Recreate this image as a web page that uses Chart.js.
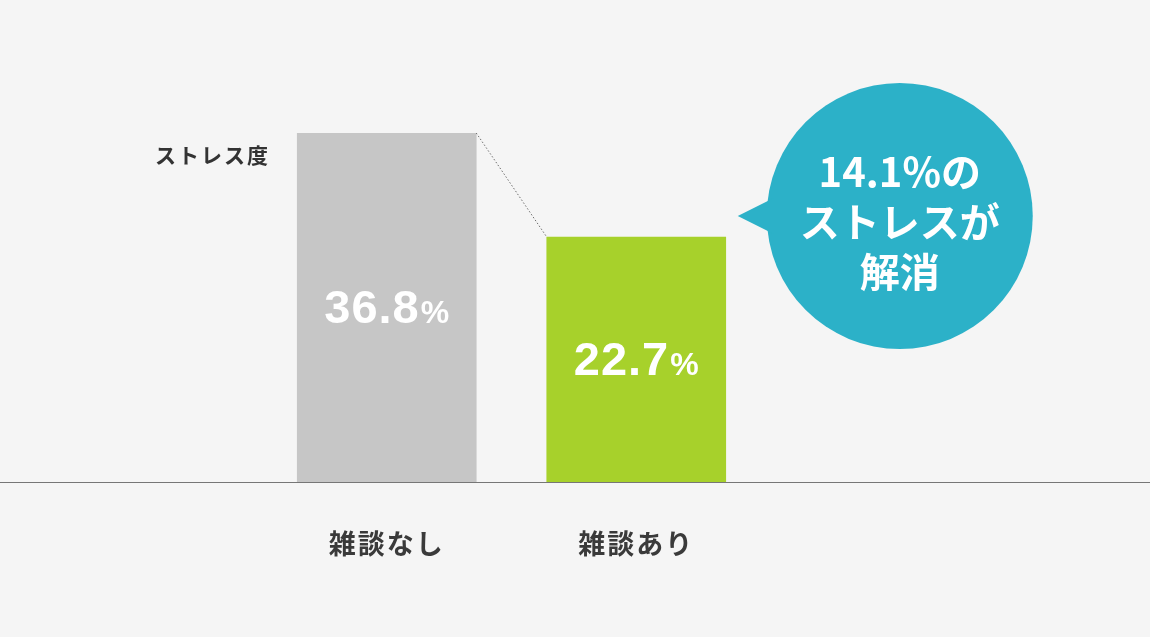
<!DOCTYPE html>
<html><head><meta charset="utf-8">
<script src="https://cdn.jsdelivr.net/npm/chart.js@4.4.1/dist/chart.umd.min.js"></script>
<style>html,body{margin:0;padding:0;background:#f5f5f5;overflow:hidden}#wrap{width:1150px;height:637px;position:relative}</style>
</head><body><div id="wrap"><canvas id="c"></canvas></div>
<script>
// ---- data ----
const categories = ['雑談なし', '雑談あり'];
const stressValues = [36.8, 22.7];
const barColors = ['#c6c6c6', '#a7d12b'];
const axisTitle = 'ストレス度';
const bubbleSuffixLines = ['のストレスが', '解消'];
// value axis range (the original chart's bars do not start at zero)
const Y_MIN = -10.5;
const Y_MAX = 36.8;

const JP = '"Noto Sans CJK JP", "Noto Sans", sans-serif';
const LAT = '"Liberation Sans", Arial, sans-serif';

function setLS(c, v) { try { c.letterSpacing = v; } catch (e) {} }

const bgPlugin = {
  id: 'bg',
  beforeDraw(chart) {
    const c = chart.ctx; c.save(); c.fillStyle = '#f5f5f5';
    c.fillRect(0, 0, chart.width, chart.height); c.restore();
    setLS(c, '2px');
  },
  beforeDatasetsDraw(chart) { setLS(chart.ctx, '0px'); }
};

const overlay = {
  id: 'overlay',
  afterDraw(chart) {
    const c = chart.ctx;
    setLS(c, '0px');
    const meta = chart.getDatasetMeta(0);
    const bars = meta.data;
    const area = chart.chartArea;
    c.save();
    // baseline across full width
    c.strokeStyle = '#767676'; c.lineWidth = 1.2;
    c.beginPath(); c.moveTo(0, area.bottom + 0.5); c.lineTo(chart.width, area.bottom + 0.5); c.stroke();

    // value labels
    bars.forEach((b, i) => {
      const num = stressValues[i].toFixed(1);
      setLS(c, '1px');
      c.font = 'bold 47px ' + LAT;
      const w1 = c.measureText(num).width;
      setLS(c, '0px');
      c.font = 'bold 32px ' + LAT;
      const w2 = c.measureText('%').width;
      const x0 = b.x - (w1 + w2 + 1) / 2;
      const yb = (b.y + b.base) / 2 + 15;
      c.fillStyle = '#ffffff'; c.textBaseline = 'alphabetic'; c.textAlign = 'left';
      setLS(c, '1px');
      c.font = 'bold 47px ' + LAT; c.fillText(num, x0, yb);
      setLS(c, '0px');
      c.font = 'bold 32px ' + LAT; c.fillText('%', x0 + w1 + 1, yb);
    });

    // dotted connector
    const b0 = bars[0], b1 = bars[1];
    c.strokeStyle = '#6e6e6e'; c.lineWidth = 1; c.setLineDash([1.5, 2]);
    c.beginPath(); c.moveTo(b0.x + b0.width / 2, b0.y); c.lineTo(b1.x - b1.width / 2, b1.y); c.stroke();
    c.setLineDash([]);

    // axis title
    c.fillStyle = '#333333'; c.font = 'bold 21px ' + JP; c.textAlign = 'left'; c.textBaseline = 'middle';
    setLS(c, '2px');
    c.fillText(axisTitle, 155, b0.y + 22);
    setLS(c, '0px');

    // bubble
    const right = b1.x + b1.width / 2;
    const cx = right + 174, cy = b1.y - 21, r = 133;
    c.fillStyle = '#2cb1c8';
    c.beginPath(); c.arc(cx, cy, r, 0, Math.PI * 2); c.fill();
    c.beginPath(); c.moveTo(right + 12, cy); c.lineTo(cx - 126, cy - 18); c.lineTo(cx - 126, cy + 18); c.closePath(); c.fill();
    const diff = (stressValues[0] - stressValues[1]).toFixed(1);
    const lines = [diff + '%' + bubbleSuffixLines[0].slice(0, 1), bubbleSuffixLines[0].slice(1), bubbleSuffixLines[1]];
    c.fillStyle = '#ffffff'; c.textAlign = 'center'; c.textBaseline = 'middle';
    c.font = 'bold 40px ' + JP;
    lines.forEach((t, i) => c.fillText(t, cx, cy - 44 + i * 50));
    c.restore();
  }
};

new Chart(document.getElementById('c'), {
  type: 'bar',
  data: {
    labels: categories,
    datasets: [{
      data: stressValues,
      backgroundColor: barColors,
      borderWidth: 0,
      barThickness: 179,
      base: Y_MIN
    }]
  },
  options: {
    responsive: true,
    maintainAspectRatio: false,
    animation: false,
    devicePixelRatio: 1,
    layout: { padding: { left: 262, right: 389, top: 133, bottom: 0 } },
    plugins: { legend: { display: false }, tooltip: { enabled: false } },
    scales: {
      x: {
        grid: { display: false },
        border: { display: false },
        ticks: { color: '#3a3a3a', font: { family: JP, size: 27, weight: 'bold' }, padding: 38 },
        afterFit(scale) { scale.height = 155; }
      },
      y: { display: false, min: Y_MIN, max: Y_MAX }
    }
  },
  plugins: [bgPlugin, overlay]
});
</script>
</body></html>
